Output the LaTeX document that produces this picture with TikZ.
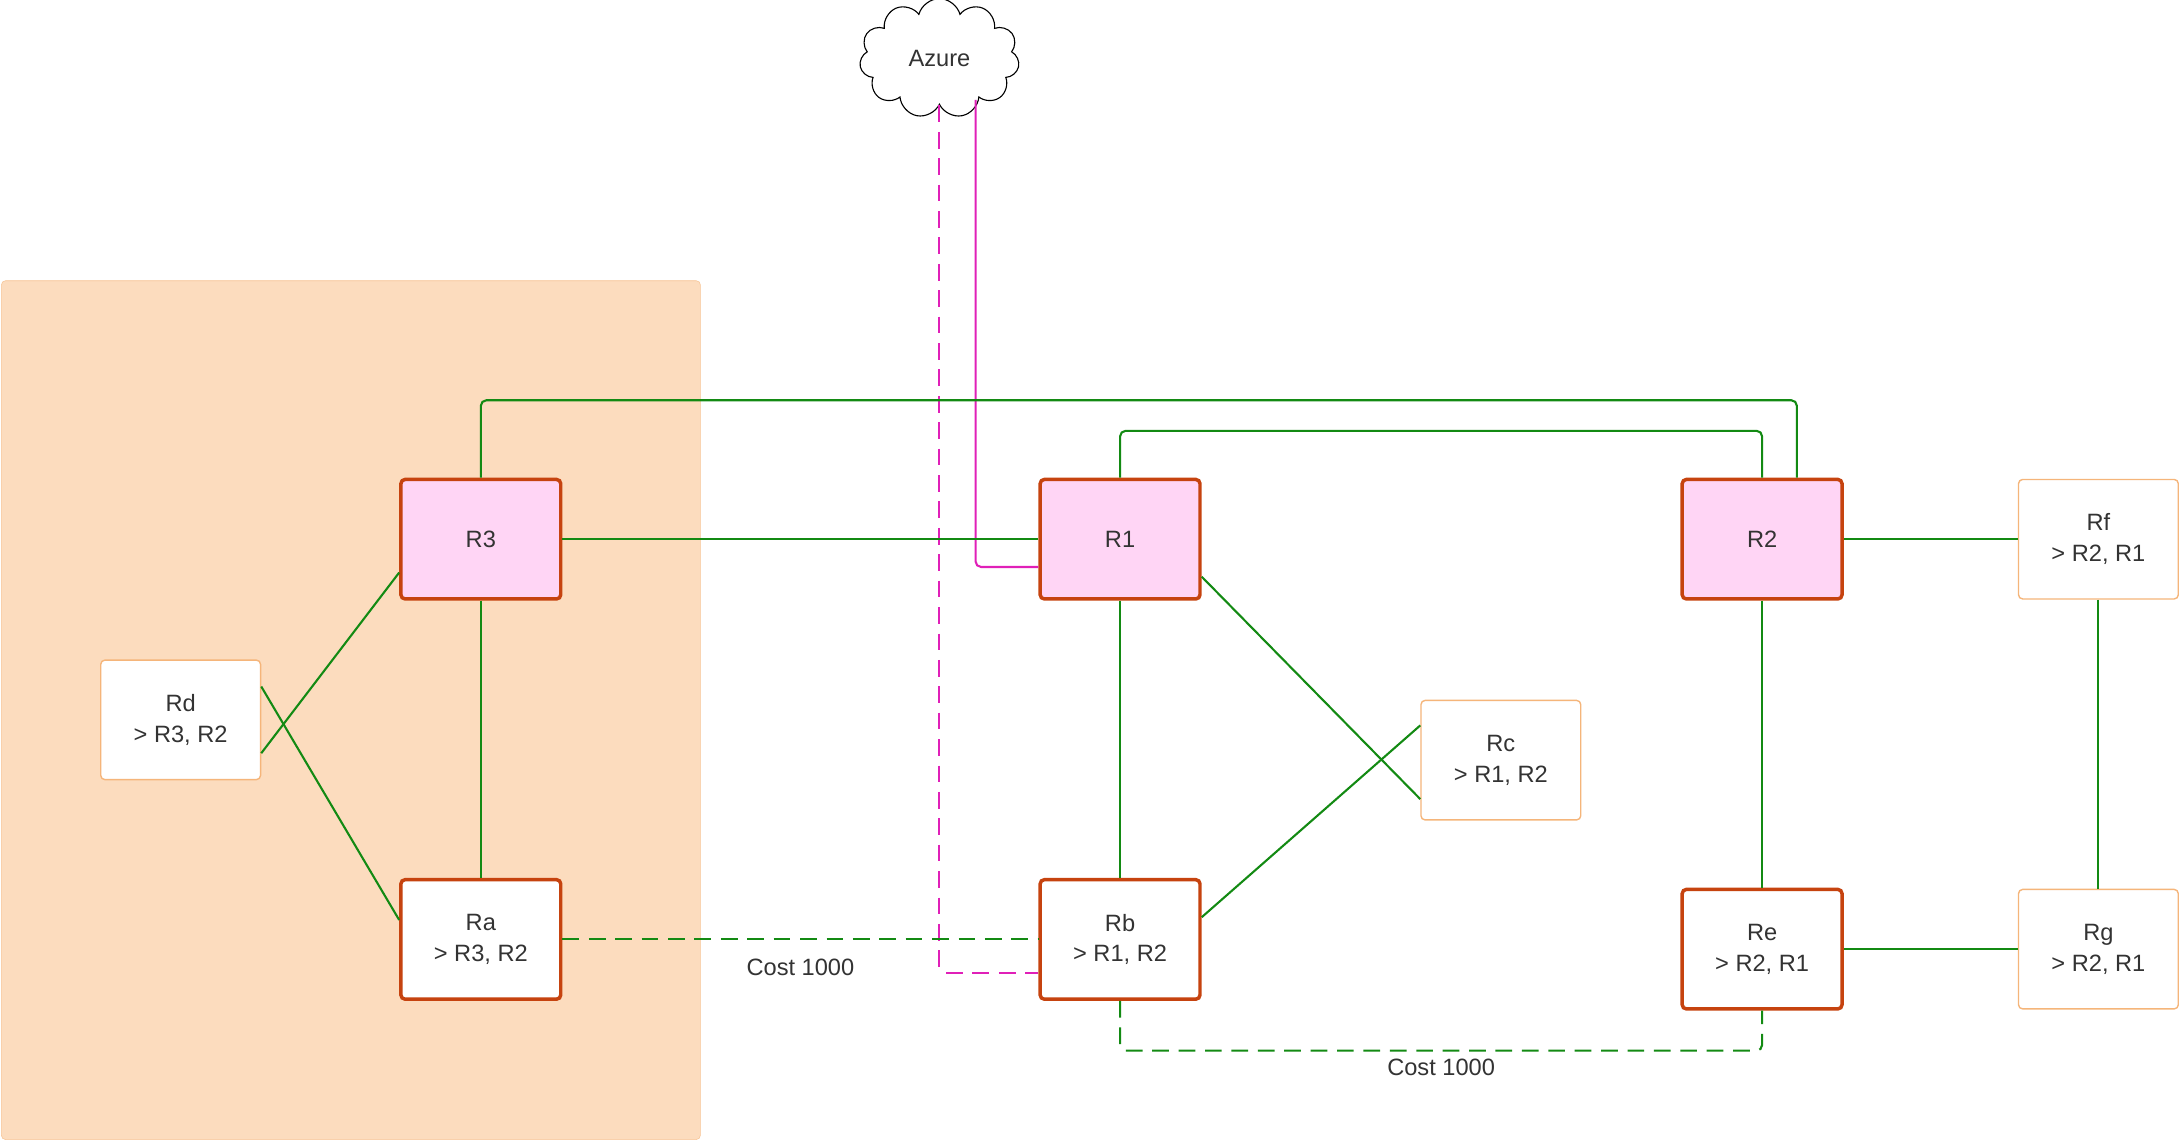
\documentclass[tikz,border=0pt]{standalone}
\usepackage{fontspec}
\setmainfont{Liberation Sans}
\usepackage{xcolor}
\definecolor{routerfill}{HTML}{FFD5F5}
\definecolor{routerline}{HTML}{C6430F}
\definecolor{siteline}{HTML}{F5B57A}
\definecolor{zonefill}{HTML}{FCDCBE}
\definecolor{linkgreen}{HTML}{138A13}
\definecolor{azurepink}{HTML}{E020B8}
\definecolor{txt}{HTML}{333333}
\usetikzlibrary{shapes.symbols}
\tikzset{
	core/.style = {draw=routerline, line width=2.5pt, rounded corners=3pt, fill=routerfill, minimum width=115pt, minimum height=86pt, align=center, text=txt},
	site/.style = {draw=siteline, line width=1pt, rounded corners=3pt, fill=white, minimum width=115pt, minimum height=86pt, align=center, text=txt},
	link/.style = {draw=linkgreen, line width=1.5pt, rounded corners=4pt},
	backup/.style = {link, dash pattern=on 12pt off 7pt},
}
\begin{document}
\begin{tikzpicture}[x=1pt, y=-1pt, font=\fontsize{17}{22}\selectfont]
	\useasboundingbox (0,0) rectangle (1568,820);
	\fill[zonefill, draw=siteline!80, rounded corners=3pt] (1,202) rectangle (504,820);
	
	\node[draw, cloud, cloud puffs=11, aspect=1.4, minimum width=115pt, minimum height=86pt, fill=white, text=txt, line width=0.8pt] (azure) at (676,42) {Azure};
	
	\node[core] (r3) at (346,388) {R3};
	\node[core] (r1) at (806,388) {R1};
	\node[core] (r2) at (1268,388) {R2};
	
	\node[site] (rd) at (130,518) {Rd\\> R3, R2};
	\node[core, fill=white] (ra) at (346,676) {Ra\\> R3, R2};
	\node[core, fill=white] (rb) at (806,676) {Rb\\> R1, R2};
	\node[site] (rc) at (1080,547) {Rc\\> R1, R2};
	\node[core, fill=white] (re) at (1268,683) {Re\\> R2, R1};
	\node[site] (rf) at (1510,388) {Rf\\> R2, R1};
	\node[site] (rg) at (1510,683) {Rg\\> R2, R1};
	
	% azure uplinks
	\draw[draw=azurepink, line width=1.5pt, rounded corners=4pt] (azure.south) ++(26,-4) |- ([yshift=-20pt]r1.west);
	\draw[draw=azurepink, line width=1.5pt, rounded corners=4pt, dash pattern=on 12pt off 7pt] (azure.south) |- ([yshift=-24pt]rb.west);
	
	% core mesh
	\draw[link] (r3.north) |- (1293,288) -- ([xshift=25pt]r2.north);
	\draw[link] (r1.north) |- (1268,310) -- (r2.north);
	\draw[link] (r3) -- (r1);
	\draw[link] (r3) -- (ra);
	\draw[link] (r1) -- (rb);
	\draw[link] (r2) -- (re);
	\draw[link] (r2) -- (rf);
	\draw[link] (rf) -- (rg);
	\draw[link] (re) -- (rg);
	\draw[link] ([yshift=-24pt]rd.east) -- ([yshift=-24pt]r3.west);
	\draw[link] ([yshift=24pt]rd.east) -- ([yshift=14pt]ra.west);
	\draw[link] ([yshift=-27pt]r1.east) -- ([yshift=-28pt]rc.west);
	\draw[link] ([yshift=16pt]rb.east) -- ([yshift=25pt]rc.west);
	
	% backup paths
	\draw[backup] (ra) -- node[below=10pt, text=txt] {Cost 1000} (rb);
	\draw[backup] (rb.south) |- (1268,756) node[pos=0.75, below=2pt, text=txt] {Cost 1000} -- (re.south);
\end{tikzpicture}
\end{document}
